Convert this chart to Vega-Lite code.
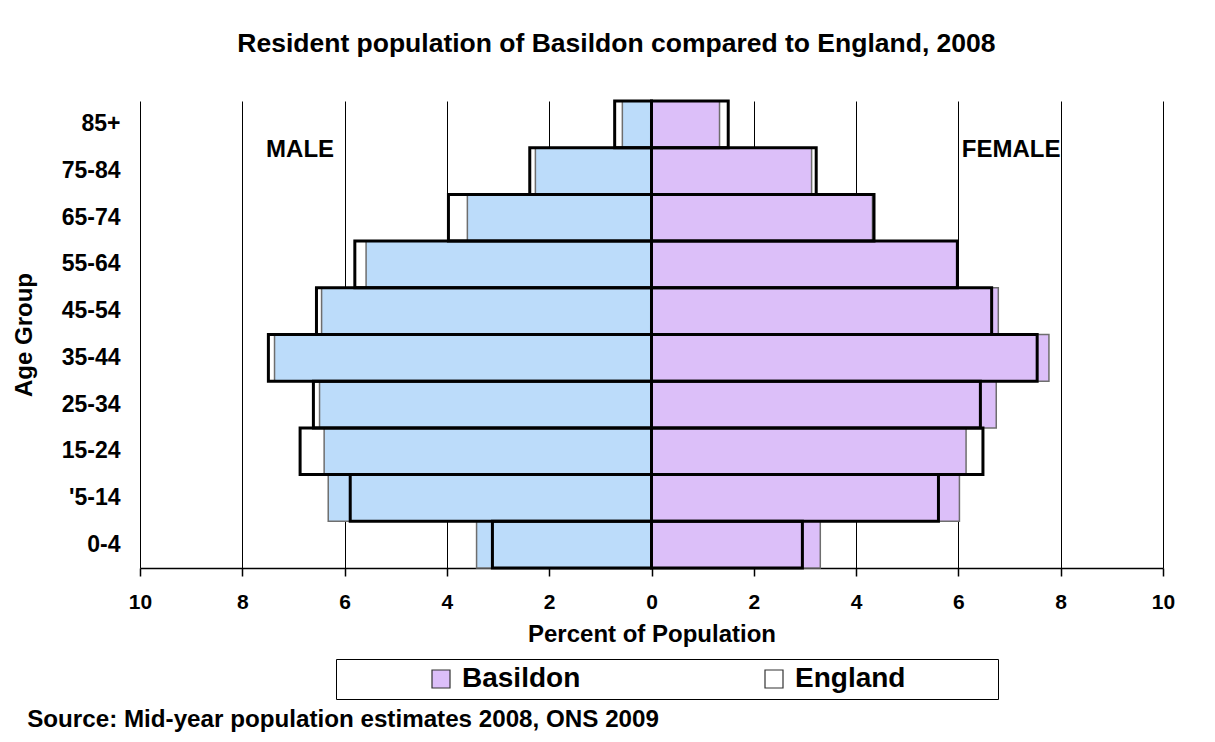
{
  "$schema": "https://vega.github.io/schema/vega-lite/v6.json",
  "background": "white",
  "padding": {"left": 12, "top": 31, "right": 10, "bottom": 4},
  "config": {"font": "Liberation Sans", "view": {"stroke": null}},
  "title": {
    "text": "Resident population of Basildon compared to England, 2008",
    "fontSize": 26.5, "fontWeight": "bold", "color": "black", "anchor": "middle", "offset": 42, "dx": 23
  },
  "vconcat": [
    {
      "width": 1023,
      "height": 467,
      "title": {
        "text": "Source: Mid-year population estimates 2008, ONS 2009",
        "orient": "bottom", "anchor": "start", "frame": "bounds",
        "fontSize": 24.2, "fontWeight": "bold", "color": "black", "offset": 8, "dx": 15
      },
      "data": {
        "values": [
          {"age": "85+", "sex": "Male", "area": "Basildon", "pct": -0.57},
          {"age": "85+", "sex": "Male", "area": "England", "pct": -0.72},
          {"age": "85+", "sex": "Female", "area": "Basildon", "pct": 1.33},
          {"age": "85+", "sex": "Female", "area": "England", "pct": 1.50},
          {"age": "75-84", "sex": "Male", "area": "Basildon", "pct": -2.27},
          {"age": "75-84", "sex": "Male", "area": "England", "pct": -2.38},
          {"age": "75-84", "sex": "Female", "area": "Basildon", "pct": 3.13},
          {"age": "75-84", "sex": "Female", "area": "England", "pct": 3.22},
          {"age": "65-74", "sex": "Male", "area": "Basildon", "pct": -3.60},
          {"age": "65-74", "sex": "Male", "area": "England", "pct": -3.97},
          {"age": "65-74", "sex": "Female", "area": "Basildon", "pct": 4.32},
          {"age": "65-74", "sex": "Female", "area": "England", "pct": 4.35},
          {"age": "55-64", "sex": "Male", "area": "Basildon", "pct": -5.58},
          {"age": "55-64", "sex": "Male", "area": "England", "pct": -5.80},
          {"age": "55-64", "sex": "Female", "area": "Basildon", "pct": 5.97},
          {"age": "55-64", "sex": "Female", "area": "England", "pct": 5.98},
          {"age": "45-54", "sex": "Male", "area": "Basildon", "pct": -6.45},
          {"age": "45-54", "sex": "Male", "area": "England", "pct": -6.55},
          {"age": "45-54", "sex": "Female", "area": "Basildon", "pct": 6.78},
          {"age": "45-54", "sex": "Female", "area": "England", "pct": 6.65},
          {"age": "35-44", "sex": "Male", "area": "Basildon", "pct": -7.37},
          {"age": "35-44", "sex": "Male", "area": "England", "pct": -7.49},
          {"age": "35-44", "sex": "Female", "area": "Basildon", "pct": 7.77},
          {"age": "35-44", "sex": "Female", "area": "England", "pct": 7.54},
          {"age": "25-34", "sex": "Male", "area": "Basildon", "pct": -6.49},
          {"age": "25-34", "sex": "Male", "area": "England", "pct": -6.61},
          {"age": "25-34", "sex": "Female", "area": "Basildon", "pct": 6.74},
          {"age": "25-34", "sex": "Female", "area": "England", "pct": 6.43},
          {"age": "15-24", "sex": "Male", "area": "Basildon", "pct": -6.40},
          {"age": "15-24", "sex": "Male", "area": "England", "pct": -6.87},
          {"age": "15-24", "sex": "Female", "area": "Basildon", "pct": 6.15},
          {"age": "15-24", "sex": "Female", "area": "England", "pct": 6.48},
          {"age": "'5-14", "sex": "Male", "area": "Basildon", "pct": -6.32},
          {"age": "'5-14", "sex": "Male", "area": "England", "pct": -5.89},
          {"age": "'5-14", "sex": "Female", "area": "Basildon", "pct": 6.02},
          {"age": "'5-14", "sex": "Female", "area": "England", "pct": 5.61},
          {"age": "0-4", "sex": "Male", "area": "Basildon", "pct": -3.42},
          {"age": "0-4", "sex": "Male", "area": "England", "pct": -3.11},
          {"age": "0-4", "sex": "Female", "area": "Basildon", "pct": 3.30},
          {"age": "0-4", "sex": "Female", "area": "England", "pct": 2.95}
        ]
      },
      "encoding": {
        "y": {
          "field": "age", "type": "nominal",
          "sort": ["85+", "75-84", "65-74", "55-64", "45-54", "35-44", "25-34", "15-24", "'5-14", "0-4"],
          "scale": {"paddingInner": 0, "paddingOuter": 0},
          "axis": {
            "title": "Age Group", "domain": false, "ticks": false, "tickSize": 0, "grid": false,
            "labelFontSize": 23, "labelFontWeight": "bold", "labelColor": "black", "labelPadding": 20,
            "titleFontSize": 24, "titleFontWeight": "bold", "titleColor": "black", "titlePadding": 25
          }
        }
      },
      "resolve": {"scale": {"fill": "independent"}, "legend": {"fill": "independent"}},
      "layer": [
        {
          "transform": [{"filter": "datum.area == 'Basildon'"}],
          "mark": {"type": "bar", "strokeWidth": 1.5, "stroke": "#6e6e6e"},
          "encoding": {
            "x": {
              "field": "pct", "type": "quantitative", "stack": null,
              "scale": {"domain": [-10, 10]},
              "axis": {
                "values": [-10, -8, -6, -4, -2, 0, 2, 4, 6, 8, 10],
                "labelExpr": "abs(datum.value)",
                "title": "Percent of Population",
                "grid": true, "gridColor": "black", "gridWidth": 1,
                "domainColor": "black", "domainWidth": 1.5,
                "tickColor": "black", "tickSize": 8, "tickWidth": 1.5,
                "labelFontSize": 21, "labelFontWeight": "bold", "labelColor": "black",
                "labelPadding": 15, "labelFlush": false, "labelOverlap": false,
                "titleFontSize": 24, "titleFontWeight": "bold", "titleColor": "black", "titlePadding": 10
              }
            },
            "fill": {
              "field": "sex", "type": "nominal",
              "scale": {"domain": ["Male", "Female"], "range": ["#bcdcfa", "#dcbff9"]},
              "legend": null
            }
          }
        },
        {
          "transform": [{"filter": "datum.area == 'England'"}],
          "mark": {"type": "bar", "strokeWidth": 3},
          "encoding": {
            "x": {"field": "pct", "type": "quantitative", "stack": null},
            "fill": {
              "field": "area", "type": "nominal",
              "scale": {"domain": ["Basildon", "England"], "range": ["#dcbff9", "transparent"]},
              "legend": {
                "title": null, "orient": "none", "legendX": 196, "legendY": 558,
                "direction": "horizontal", "strokeColor": "black", "fillColor": "white",
                "padding": 6, "symbolType": "square", "symbolSize": 324,
                "symbolStrokeColor": "#333333", "symbolStrokeWidth": 1.2,
                "symbolOffset": 85, "labelFontSize": 28, "labelFontWeight": "bold", "labelColor": "black",
                "labelOffset": 7, "columnPadding": 94, "labelLimit": 400,
                "labelExpr": "datum.label == 'England' ? datum.label + '\u00a0\u00a0\u00a0\u00a0\u00a0\u00a0\u00a0\u00a0\u00a0\u00a0\u00a0\u200b' : datum.label"
              }
            },
            "stroke": {
              "field": "area", "type": "nominal",
              "scale": {"domain": ["Basildon", "England"], "range": ["#6e6e6e", "#000000"]},
              "legend": null
            }
          }
        },
        {
          "data": {"values": [{"label": "MALE"}]},
          "mark": {"type": "text", "fontSize": 24, "fontWeight": "bold", "color": "black", "dy": -21},
          "encoding": {
            "x": {"datum": -6.87},
            "y": {"datum": "75-84"},
            "text": {"field": "label"}
          }
        },
        {
          "data": {"values": [{"label": "FEMALE"}]},
          "mark": {"type": "text", "fontSize": 24, "fontWeight": "bold", "color": "black", "dy": -21},
          "encoding": {
            "x": {"datum": 7.03},
            "y": {"datum": "75-84"},
            "text": {"field": "label"}
          }
        }
      ]
    }
  ]
}
